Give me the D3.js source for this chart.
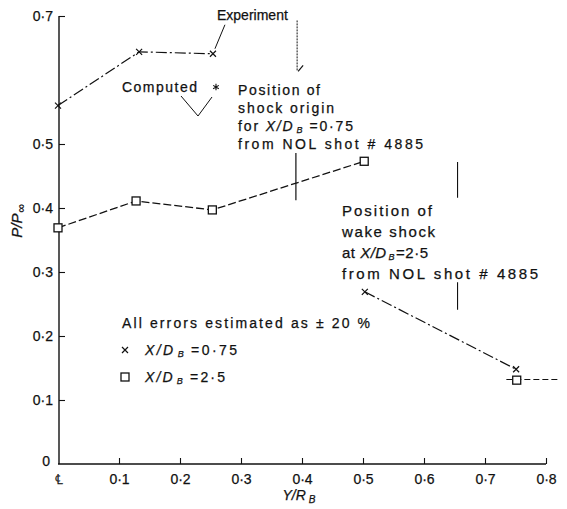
<!DOCTYPE html>
<html>
<head>
<meta charset="utf-8">
<script src="https://cdn.jsdelivr.net/npm/d3@7/dist/d3.min.js"></script>
<style>
  html, body { margin: 0; padding: 0; background: #fff; }
  svg { display: block; }
  text { font-family: "Liberation Sans", Arial, sans-serif; fill: #111; stroke: #111; stroke-width: 0.25px; }
</style>
</head>
<body>
<svg id="chart" width="567" height="509"></svg>
<script>
// Pressure ratio across the wake, Y/R_B along x, P/P∞ along y
const xTicks = [0, 0.1, 0.2, 0.3, 0.4, 0.5, 0.6, 0.7, 0.8];
const xTickLabels = ["\u2104", "0\u00B71", "0\u00B72", "0\u00B73", "0\u00B74", "0\u00B75", "0\u00B76", "0\u00B77", "0\u00B78"];
const yTicks = [0, 0.1, 0.2, 0.3, 0.4, 0.5, 0.7];
const yTickLabels = ["0", "0\u00B71", "0\u00B72", "0\u00B73", "0\u00B74", "0\u00B75", "0\u00B77"];

// X/D_B = 0.75 (crosses), two separate dash-dot runs
const crossY = [0, 0.133, 0.254, 0.503, 0.751];
const crossP = [0.56, 0.644, 0.641, 0.269, 0.148];
const crossRuns = [[0, 1, 2], [3, 4]];

// X/D_B = 2.5 (squares)
const squareY = [0, 0.128, 0.253, 0.502, 0.752];
const squareP = [0.369, 0.411, 0.397, 0.473, 0.131];
const squareRun = [0, 1, 2, 3];
// short dashed continuation through the last square
const squareTailY = [0.735, 0.820];
const squareTailP = [0.132, 0.132];

// computed point
const computedY = [0.259];
const computedP = [0.589];

// shock position markers
const shockOriginY = 0.39;
const shockOriginP = [0.412, 0.486];
const wakeShockY = 0.655;
const wakeShockP = [[0.416, 0.472], [0.241, 0.284]];
const experimentLeaderY = 0.392;
const experimentLeaderP = [0.615, 0.693];

const svg = d3.select("#chart");
const x = d3.scaleLinear().domain([0, 0.8]).range([58, 546]);
const y = d3.scaleLinear().domain([0, 0.7]).range([464, 16]);

const ink = "#111";

// axes
const xAxis = d3.axisBottom(x).tickValues(xTicks).tickSize(-6).tickFormat((d, i) => xTickLabels[i]);
const gx = svg.append("g").attr("transform", `translate(0,${y(0)})`).call(xAxis);
gx.select(".domain").attr("d", `M${x(0)},0H${x(0.8)}`).attr("stroke", ink).attr("stroke-width", 1.4);
gx.selectAll(".tick line").attr("stroke", ink).attr("stroke-width", 1.1);
gx.selectAll(".tick text").attr("dy", 0).attr("y", 20).style("font-size", "14px").attr("fill", ink)
  .style("font-family", "'Liberation Sans', Arial, sans-serif");
gx.selectAll(".tick").filter(d => d === 0).select("line").remove();

const yAxis = d3.axisLeft(y).tickValues(yTicks).tickSize(-6).tickFormat((d, i) => yTickLabels[i]);
const gy = svg.append("g").attr("transform", `translate(${x(0) + 1},0)`).call(yAxis);
gy.select(".domain").attr("d", `M0,${y(0)}V${y(0.7)}`).attr("stroke", ink).attr("stroke-width", 1.4);
gy.selectAll(".tick line").attr("stroke", ink).attr("stroke-width", 1.1);
gy.selectAll(".tick text").attr("x", -6).style("font-size", "14px").attr("fill", ink)
  .style("font-family", "'Liberation Sans', Arial, sans-serif");
gy.selectAll(".tick").filter(d => d === 0).select("line").remove();
gy.selectAll(".tick").filter(d => d === 0).select("text").attr("x", -9).attr("dy", "0.1em");

// axis titles
const yt = svg.append("text").attr("transform", `translate(22,${y(0.38)}) rotate(-90)`)
  .attr("text-anchor", "middle").style("font-size", "15px").style("font-style", "italic");
yt.append("tspan").text("P/P");
yt.append("tspan").attr("dx", 1).attr("baseline-shift", "-3").style("font-size", "12px").style("font-style", "normal").text("\u221E");

const xt = svg.append("text").attr("x", x(0.4) - 3).attr("y", 500)
  .attr("text-anchor", "middle").style("font-size", "14px").style("font-style", "italic");
xt.append("tspan").text("Y/R");
xt.append("tspan").attr("dx", 3).attr("baseline-shift", "-3").style("font-size", "10px").text("B");

// series lines
const line = d3.line().x(d => x(d[0])).y(d => y(d[1]));
crossRuns.forEach(run => {
  svg.append("path").attr("d", line(run.map(i => [crossY[i], crossP[i]])))
    .attr("fill", "none").attr("stroke", ink).attr("stroke-width", 1.2)
    .attr("stroke-dasharray", "11,3,2,3");
});
svg.append("path").attr("d", line(squareRun.map(i => [squareY[i], squareP[i]])))
  .attr("fill", "none").attr("stroke", ink).attr("stroke-width", 1.3)
  .attr("stroke-dasharray", "8,3");
svg.append("path").attr("d", line(squareTailY.map((v, i) => [v, squareTailP[i]])))
  .attr("fill", "none").attr("stroke", ink).attr("stroke-width", 1.2)
  .attr("stroke-dasharray", "6,3");

// markers
const cross = svg.append("g");
crossY.forEach((v, i) => {
  const cx = x(v), cy = y(crossP[i]);
  cross.append("path").attr("d", `M${cx - 3},${cy - 3}L${cx + 3},${cy + 3}M${cx - 3},${cy + 3}L${cx + 3},${cy - 3}`)
    .attr("stroke", ink).attr("stroke-width", 1.2);
});
squareY.forEach((v, i) => {
  svg.append("rect").attr("x", x(v) - 4).attr("y", y(squareP[i]) - 4).attr("width", 8).attr("height", 8)
    .attr("fill", "#fff").attr("stroke", ink).attr("stroke-width", 1.3);
});
computedY.forEach((v, i) => {
  svg.append("path").attr("d", d3.symbol().type(d3.symbolAsterisk).size(30)())
    .attr("transform", `translate(${x(v)},${y(computedP[i])})`)
    .attr("stroke", ink).attr("stroke-width", 1.1).attr("fill", "none");
});

// shock position markers
svg.append("line").attr("x1", x(shockOriginY)).attr("x2", x(shockOriginY))
  .attr("y1", y(shockOriginP[0])).attr("y2", y(shockOriginP[1])).attr("stroke", ink).attr("stroke-width", 1.2);
wakeShockP.forEach(seg => {
  svg.append("line").attr("x1", x(wakeShockY)).attr("x2", x(wakeShockY))
    .attr("y1", y(seg[0])).attr("y2", y(seg[1])).attr("stroke", ink).attr("stroke-width", 1.1);
});
svg.append("line").attr("x1", x(experimentLeaderY)).attr("x2", x(experimentLeaderY))
  .attr("y1", y(experimentLeaderP[0])).attr("y2", y(experimentLeaderP[1]))
  .attr("stroke", ink).attr("stroke-width", 1).attr("stroke-dasharray", "2,1");
svg.append("path").attr("d", `M${x(experimentLeaderY) + 1},${y(experimentLeaderP[0]) + 1}l5,-6`)
  .attr("stroke", ink).attr("stroke-width", 1.2);

// leaders
svg.append("path").attr("d", `M${x(crossY[2]) + 2},${y(crossP[2]) - 5}L${x(crossY[2]) + 12},${y(crossP[2]) - 29}`)
  .attr("stroke", ink).attr("stroke-width", 1).attr("fill", "none");
svg.append("path").attr("d", "M181,96L198,116L212,97")
  .attr("stroke", ink).attr("stroke-width", 1).attr("fill", "none");

// annotation text
function label(tx, ty, parts, size, width) {
  const t = svg.append("text").attr("x", tx).attr("y", ty).style("font-size", (size || 14) + "px");
  parts.forEach(p => {
    const s = t.append("tspan").text(p.t);
    if (p.i) s.style("font-style", "italic");
    if (p.sub) s.attr("baseline-shift", "-2").style("font-size", "9px");
    if (p.dx) s.attr("dx", p.dx);
  });
  if (width) t.attr("textLength", width).attr("lengthAdjust", "spacing");
  return t;
}
label(217, 20, [{t: "Experiment"}], 14);
label(122, 92, [{t: "Computed"}], 14, 75);
label(238, 95, [{t: "Position of"}], 14, 82);
label(238, 113, [{t: "shock origin"}], 14, 96);
label(238, 131, [{t: "for "}, {t: "X/D", i: 1}, {t: "B", i: 1, sub: 1, dx: 2}, {t: "=0\u00B775", dx: 5}], 14, 115);
label(238, 149, [{t: "from NOL shot # 4885"}], 14, 185);
label(342, 216, [{t: "Position of"}], 15, 90);
label(342, 237, [{t: "wake shock"}], 15, 93);
label(342, 258, [{t: "at "}, {t: "X/D", i: 1}, {t: "B", i: 1, sub: 1, dx: 2}, {t: "=2\u00B75", dx: 1}], 15, 86);
label(342, 279, [{t: "from NOL shot # 4885"}], 15, 196);
label(122, 328, [{t: "All errors estimated as \u00B1 20 %"}], 14, 248);
label(145, 355, [{t: "X/D", i: 1}, {t: "B", i: 1, sub: 1, dx: 2}, {t: "=0\u00B775", dx: 5}], 14, 92);
label(145, 382, [{t: "X/D", i: 1}, {t: "B", i: 1, sub: 1, dx: 2}, {t: "=2\u00B75", dx: 5}], 14, 80);

// legend symbols
svg.append("path").attr("d", "M122,347L128,353M122,353L128,347").attr("stroke", ink).attr("stroke-width", 1.2);
svg.append("rect").attr("x", 121).attr("y", 373).attr("width", 8).attr("height", 8)
  .attr("fill", "#fff").attr("stroke", ink).attr("stroke-width", 1.3);
</script>
</body>
</html>
